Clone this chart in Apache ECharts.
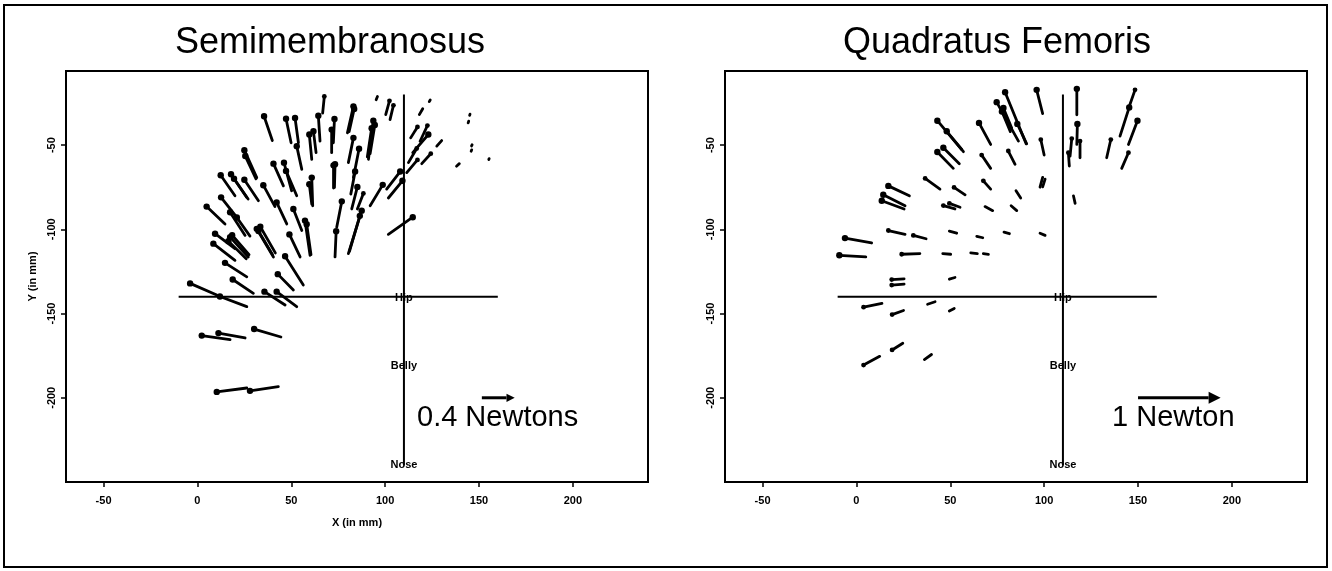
<!DOCTYPE html>
<html><head><meta charset="utf-8">
<script src="https://cdn.jsdelivr.net/npm/echarts@6/dist/echarts.min.js"></script>
<style>html,body{margin:0;padding:0;background:#fff}#c{width:1332px;height:571px}</style>
</head><body><div id="c"></div>
<script>
const xTicks = [-50, 0, 50, 100, 150, 200];
const yTicks = [-200, -150, -100, -50];
const titles = ['Semimembranosus', 'Quadratus Femoris'];
const xName = 'X (in mm)';
const yName = 'Y (in mm)';

// each arrow: [headX, headY, tailX, tailY] in mm
const semimembranosusArrows = [
  [67.6,-21.1,66.7,-31.0],[35.5,-32.9,39.9,-47.3],[47.2,-34.3,49.9,-48.6],[52.0,-33.9,53.8,-48.6],
  [64.4,-32.5,65.3,-47.6],[61.8,-41.8,63.2,-54.5],[59.6,-43.7,60.9,-58.4],[73.0,-34.5,72.4,-48.6],
  [71.5,-40.8,71.5,-54.5],[25.0,-53.0,31.6,-69.3],[25.5,-56.5,31.2,-70.0],[40.5,-61.0,45.8,-74.2],
  [46.1,-60.4,50.2,-77.1],[47.2,-65.3,52.9,-80.1],[52.9,-50.6,55.6,-64.4],[73.3,-61.4,73.0,-75.1],
  [72.5,-62.0,72.5,-75.5],[60.9,-69.3,61.4,-86.0],[59.6,-73.2,60.9,-85.0],[12.4,-67.9,20.0,-80.1],
  [17.9,-67.3,26.2,-81.0],[19.5,-70.0,27.0,-82.0],[25.0,-70.6,32.5,-83.0],[35.1,-73.8,41.3,-86.5],
  [42.2,-84.0,47.6,-96.8],[12.6,-81.0,20.9,-92.8],[4.9,-86.5,14.7,-96.8],[17.4,-89.9,25.4,-103.6],
  [21.0,-93.0,28.0,-104.0],[31.6,-99.7,40.5,-116.4],[32.5,-101.0,40.0,-115.0],[33.5,-98.5,41.5,-114.0],
  [51.1,-87.9,55.6,-100.7],[57.3,-94.8,60.0,-115.4],[58.2,-97.0,60.5,-115.0],[76.9,-83.4,74.2,-98.7],
  [73.9,-101.1,73.3,-116.4],[9.4,-102.6,20.0,-111.5],[8.5,-108.5,20.0,-118.4],[17.4,-104.6,27.1,-116.4],
  [16.5,-107.0,26.0,-117.5],[18.5,-103.5,27.5,-115.0],[49.0,-103.0,54.7,-116.4],[14.7,-119.9,26.3,-128.2],
  [46.7,-116.0,56.4,-133.1],[18.8,-129.8,29.8,-138.0],[42.8,-126.6,51.1,-136.0],[-3.9,-132.1,10.3,-139.0],
  [12.0,-139.9,26.3,-145.9],[35.7,-137.0,46.7,-144.9],[42.2,-137.0,52.9,-145.9],[2.3,-163.1,17.4,-165.5],
  [11.2,-161.6,25.4,-164.5],[30.2,-159.2,44.5,-163.9],[10.3,-196.5,26.3,-194.2],[28.0,-195.9,43.1,-193.4],
  [83.1,-27.0,79.9,-42.7],[83.5,-28.5,80.8,-42.0],[95.9,-21.1,95.2,-23.1],[102.3,-23.7,100.3,-31.9],
  [104.4,-26.4,102.6,-34.9],[93.7,-35.5,91.1,-58.4],[92.8,-40.0,90.5,-57.0],[94.5,-38.0,92.0,-55.0],
  [83.1,-45.7,80.4,-60.4],[86.1,-52.2,83.1,-69.3],[84.0,-65.7,81.7,-79.1],[85.2,-74.8,82.2,-87.9],
  [88.4,-78.7,85.2,-87.9],[87.5,-88.9,80.4,-114.4],[86.5,-92.0,81.0,-113.0],[98.7,-73.6,92.0,-86.0],
  [108.0,-65.7,100.8,-76.1],[109.2,-71.2,101.7,-81.4],[114.7,-92.8,101.7,-103.0],[117.2,-39.2,113.6,-45.7],
  [122.5,-38.4,118.6,-47.7],[123.0,-43.7,114.7,-54.5],[116.8,-52.0,112.4,-60.4],[117.2,-58.8,111.5,-66.3],
  [124.3,-55.1,119.5,-61.0],[130.1,-47.3,127.5,-50.6],[120.0,-28.4,118.2,-31.9],[124.0,-23.2,123.5,-24.2],
  [139.5,-61.0,138.0,-62.5],[145.2,-31.6,145.0,-32.3],[144.5,-35.8,144.2,-36.8],[146.3,-49.8,146.0,-50.5],
  [146.1,-52.8,145.8,-53.6],[155.4,-58.0,155.2,-58.6]
];

const quadratusArrows = [
  [17.0,-74.2,28.2,-80.1],[14.3,-79.5,25.9,-86.0],[13.5,-83.0,25.4,-87.9],[-6.1,-105.2,8.1,-108.1],
  [-9.1,-115.4,5.0,-116.4],[17.0,-100.7,25.9,-103.0],[24.1,-114.8,33.8,-114.4],[18.8,-129.8,25.4,-129.4],
  [18.8,-133.1,25.4,-132.5],[3.8,-146.2,13.6,-144.0],[79.2,-18.6,90.4,-49.2],[74.7,-24.5,86.3,-47.6],
  [78.3,-28.0,82.7,-39.8],[77.5,-30.0,82.0,-42.0],[85.7,-37.4,90.7,-49.2],[96.0,-17.2,99.2,-31.3],
  [117.4,-16.6,117.4,-32.0],[148.4,-17.2,145.5,-26.5],[145.3,-27.6,140.4,-44.7],[149.7,-35.5,144.9,-49.6],
  [144.9,-54.5,141.3,-63.8],[135.5,-46.7,133.3,-57.5],[117.7,-37.4,117.4,-49.6],[114.7,-46.1,113.8,-56.5],
  [119.1,-47.6,119.1,-57.5],[112.9,-54.5,113.4,-62.4],[43.1,-35.5,57.0,-53.9],[48.1,-41.8,56.1,-52.6],
  [65.3,-36.8,71.5,-49.6],[43.1,-54.1,51.6,-63.8],[46.3,-51.6,54.8,-61.0],[66.7,-55.9,71.5,-63.8],
  [80.9,-53.5,84.5,-61.4],[98.2,-46.7,100.0,-55.9],[36.6,-69.8,44.5,-76.1],[52.0,-75.1,57.9,-79.5],
  [67.6,-71.2,71.5,-76.1],[85.0,-77.1,87.5,-81.4],[99.2,-69.2,97.8,-75.0],[100.5,-70.2,99.2,-74.8],
  [46.3,-85.9,52.5,-87.9],[49.5,-84.6,55.2,-86.9],[68.5,-86.5,72.6,-88.9],[82.4,-86.0,85.4,-88.9],
  [115.6,-80.1,116.5,-84.6],[30.3,-103.6,37.1,-105.6],[49.5,-101.1,53.4,-102.3],[64.1,-104.2,67.3,-105.0],
  [78.6,-101.7,81.5,-102.6],[97.8,-102.3,100.5,-103.6],[46.0,-114.4,50.2,-114.8],[60.9,-114.0,64.4,-114.4],
  [67.6,-114.4,70.3,-114.8],[49.5,-129.6,52.5,-128.6],[19.0,-150.6,25.1,-148.2],[37.9,-144.5,41.9,-143.0],
  [49.5,-148.5,52.1,-147.0],[19.0,-171.6,24.7,-167.6],[3.8,-180.6,12.4,-175.4],[36.2,-177.3,40.0,-174.3]
];

const hipLineH = [[-10, -140], [160, -140]];
const hipLineV = [[110, -20], [110, -240]];
const landmarkNames = ['Hip', 'Belly', 'Nose'];
const landmarkPos = [[110, -141], [110, -181], [110, -240]];
// reference arrows: [headX, headY, tailX, tailY]
const refArrows = [[169, -200, 151.5, -200], [194, -200, 150, -200]];
const refLabels = ['0.4 Newtons', '1 Newton'];

const FONT = '"Liberation Sans", Arial, Helvetica, sans-serif';
const chart = echarts.init(document.getElementById('c'), null, { renderer: 'canvas' });

function renderArrow(params, api) {
  const h = api.coord([api.value(0), api.value(1)]);
  const t = api.coord([api.value(2), api.value(3)]);
  const len = Math.hypot(h[0] - t[0], h[1] - t[1]);
  const children = [{
    type: 'line',
    shape: { x1: t[0], y1: t[1], x2: h[0], y2: h[1] },
    style: { stroke: '#000', lineWidth: 2.8, lineCap: 'round' }
  }];
  const r = len > 20 ? 3.2 : (len > 11 ? 2.4 : 0);
  if (r) children.push({ type: 'circle', shape: { cx: h[0], cy: h[1], r: r }, style: { fill: '#000' } });
  return { type: 'group', children };
}

function renderRefArrow(params, api) {
  const h = api.coord([api.value(0), api.value(1)]);
  const t = api.coord([api.value(2), api.value(3)]);
  const len = Math.hypot(h[0] - t[0], h[1] - t[1]);
  const ux = (h[0] - t[0]) / len, uy = (h[1] - t[1]) / len;
  const hl = Math.min(12, len * 0.25), hw = hl * 0.5;
  const bx = h[0] - ux * hl, by = h[1] - uy * hl;
  return {
    type: 'group',
    children: [
      { type: 'line', shape: { x1: t[0], y1: t[1], x2: bx, y2: by }, style: { stroke: '#000', lineWidth: 3 } },
      { type: 'polygon', shape: { points: [[h[0], h[1]], [bx - uy * hw, by + ux * hw], [bx + uy * hw, by - ux * hw]] }, style: { fill: '#000' } }
    ]
  };
}

function renderLandmark(params, api) {
  const p = api.coord([api.value(0), api.value(1)]);
  return {
    type: 'text', x: p[0], y: p[1],
    style: { text: landmarkNames[params.dataIndex], font: 'bold 11px ' + FONT, fill: '#000', textAlign: 'center', textVerticalAlign: 'middle' }
  };
}

function xAx(gi, showName) {
  return {
    type: 'value', gridIndex: gi, min: -70, max: 240,
    axisLine: { show: false, onZero: false }, splitLine: { show: false },
    axisTick: { show: true, customValues: xTicks, length: 5, lineStyle: { color: '#000', width: 1.5 } },
    axisLabel: { customValues: xTicks, color: '#000', fontWeight: 'bold', fontSize: 11, margin: 13, fontFamily: FONT },
    name: showName ? xName : '', nameLocation: 'middle', nameGap: 35,
    nameTextStyle: { color: '#000', fontWeight: 'bold', fontSize: 11, fontFamily: FONT }
  };
}
function yAx(gi, showName) {
  return {
    type: 'value', gridIndex: gi, min: -250, max: -6,
    axisLine: { show: false, onZero: false }, splitLine: { show: false },
    axisTick: { show: true, customValues: yTicks, length: 5, lineStyle: { color: '#000', width: 1.5 } },
    axisLabel: { customValues: yTicks, rotate: 90, color: '#000', fontWeight: 'bold', fontSize: 11, margin: 9, fontFamily: FONT },
    name: showName ? yName : '', nameLocation: 'middle', nameGap: 28, nameRotate: 90,
    nameTextStyle: { color: '#000', fontWeight: 'bold', fontSize: 11, fontFamily: FONT }
  };
}

const series = [];
[semimembranosusArrows, quadratusArrows].forEach((arr, gi) => {
  series.push({
    type: 'line', xAxisIndex: gi, yAxisIndex: gi, data: hipLineH, symbol: 'none',
    lineStyle: { color: '#000', width: 2 }, silent: true, z: 2
  });
  series.push({
    type: 'line', xAxisIndex: gi, yAxisIndex: gi, data: hipLineV, symbol: 'none',
    lineStyle: { color: '#000', width: 2 }, silent: true, z: 2
  });
  series.push({
    type: 'custom', xAxisIndex: gi, yAxisIndex: gi, data: arr,
    encode: { x: [0, 2], y: [1, 3] }, renderItem: renderArrow, z: 3
  });
  series.push({
    type: 'custom', xAxisIndex: gi, yAxisIndex: gi, data: [refArrows[gi]],
    encode: { x: [0, 2], y: [1, 3] }, renderItem: renderRefArrow, z: 3
  });
  series.push({
    type: 'custom', xAxisIndex: gi, yAxisIndex: gi, data: landmarkPos,
    encode: { x: 0, y: 1 }, renderItem: renderLandmark, z: 5
  });
});

chart.setOption({
  animation: false,
  backgroundColor: '#fff',
  grid: [
    { left: 66, top: 71, width: 582, height: 411, show: true, borderColor: '#000', borderWidth: 2, backgroundColor: 'transparent' },
    { left: 725, top: 71, width: 582, height: 411, show: true, borderColor: '#000', borderWidth: 2, backgroundColor: 'transparent' }
  ],
  xAxis: [xAx(0, true), xAx(1, false)],
  yAxis: [yAx(0, true), yAx(1, false)],
  series: series,
  graphic: [
    { type: 'rect', shape: { x: 4, y: 5, width: 1323, height: 562 }, style: { fill: 'none', stroke: '#000', lineWidth: 2 }, silent: true },
    { type: 'text', x: 330, y: 43, style: { text: titles[0], font: '36px ' + FONT, fill: '#000', textAlign: 'center', textVerticalAlign: 'middle' } },
    { type: 'text', x: 997, y: 43, style: { text: titles[1], font: '36px ' + FONT, fill: '#000', textAlign: 'center', textVerticalAlign: 'middle' } },
    { type: 'text', x: 417, y: 418, style: { text: refLabels[0], font: '29px ' + FONT, fill: '#000', textAlign: 'left', textVerticalAlign: 'middle' } },
    { type: 'text', x: 1112, y: 418, style: { text: refLabels[1], font: '29px ' + FONT, fill: '#000', textAlign: 'left', textVerticalAlign: 'middle' } }
  ]
});
</script>
</body></html>
